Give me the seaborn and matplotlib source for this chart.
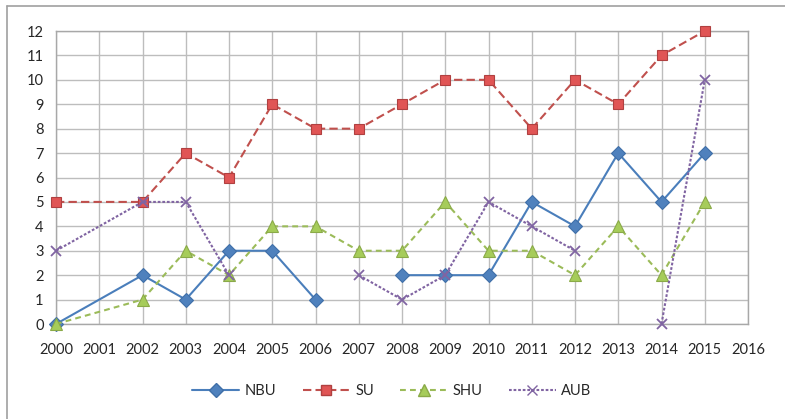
import numpy as np
import pandas as pd
import matplotlib
matplotlib.use("Agg")
import matplotlib.pyplot as plt
import seaborn as sns
from matplotlib.lines import Line2D

# data (2001 has no values; NaN = gap in the line)
years = [2000, 2002, 2003, 2004, 2005, 2006, 2007, 2008, 2009, 2010, 2011, 2012, 2013, 2014, 2015]
nbu = [0, 2, 1, 3, 3, 1, np.nan, 2, 2, 2, 5, 4, 7, 5, 7]
su = [5, 5, 7, 6, 9, 8, 8, 9, 10, 10, 8, 10, 9, 11, 12]
shu = [0, 1, 3, 2, 4, 4, 3, 3, 5, 3, 3, 2, 4, 2, 5]
aub = [3, 5, 5, 2, np.nan, np.nan, 2, 1, 2, 5, 4, 3, np.nan, 0, 10]
series_names = ["NBU", "SU", "SHU", "AUB"]
x_ticks = list(range(2000, 2017))
y_ticks = list(range(0, 13))

styles = {
    "NBU": dict(color="#4A7EBB", marker="D", mfc="#4F81BD", mec="#3F6FA8", ls="-", ms=7),
    "SU": dict(color="#C0504D", marker="s", mfc="#E05555", mec="#B04040", ls=(0, (4, 2)), ms=7.5),
    "SHU": dict(color="#9BBB59", marker="^", mfc="#A6CC5A", mec="#8AAA48", ls=(0, (2.8, 2)), ms=8),
    "AUB": dict(color="#8064A2", marker="x", mfc="#8064A2", mec="#8064A2", ls=(0, (1.3, 0.9)), ms=7),
}

frames = []
for name, vals in zip(series_names, [nbu, su, shu, aub]):
    d = pd.DataFrame({"year": years, "value": vals})
    d["seg"] = d["value"].isna().cumsum()
    d["series"] = name
    frames.append(d.dropna())
df = pd.concat(frames, ignore_index=True)

sns.set_style("white")
plt.rcParams["font.family"] = ["Lato", "DejaVu Sans"]

fig = plt.figure(figsize=(7.85, 4.19), dpi=100)
ax = fig.add_axes([56 / 785, 1 - 324 / 419, (748 - 56) / 785, (324 - 31) / 419])

for name in series_names:
    st = styles[name]
    sns.lineplot(data=df[df["series"] == name], x="year", y="value", units="seg",
                 estimator=None, ax=ax, color=st["color"], linestyle=st["ls"],
                 linewidth=1.5, marker=st["marker"], markersize=st["ms"],
                 markerfacecolor=st["mfc"], markeredgecolor=st["mec"],
                 markeredgewidth=1.3 if name == "AUB" else 0.8, zorder=3, clip_on=False)

ax.set_xlim(2000, 2016)
ax.set_ylim(0, 12)
ax.set_xticks(x_ticks)
ax.set_xticklabels([str(t) for t in x_ticks])
ax.set_yticks(y_ticks)
ax.grid(True, color="#BDBDBD", linewidth=1.0)
for s in ax.spines.values():
    s.set_color("#A8A8A8")
    s.set_linewidth(1.0)
ax.tick_params(axis="both", length=5, color="#A8A8A8", labelsize=10.5, pad=4)
ax.tick_params(axis="x", pad=9)
ax.set_xlabel("")
ax.set_ylabel("")

handles = [Line2D([], [], color=styles[n]["color"], linestyle=styles[n]["ls"], linewidth=1.5,
                  marker=styles[n]["marker"], markersize=styles[n]["ms"],
                  markerfacecolor=styles[n]["mfc"], markeredgecolor=styles[n]["mec"])
           for n in series_names]
fig.legend(handles, series_names, loc="center", bbox_to_anchor=(392 / 785, 1 - 391 / 419),
           ncol=4, frameon=False, fontsize=10.5, handlelength=3.2, columnspacing=1.8,
           handletextpad=0.4)

# outer chart-area border (top and left edges visible)
fig.add_artist(Line2D([7 / 785, 1], [1 - 6 / 419] * 2, color="#A0A0A0", linewidth=1.2))
fig.add_artist(Line2D([7 / 785] * 2, [0, 1 - 6 / 419], color="#A0A0A0", linewidth=1.2))

fig.savefig("out.png", dpi=100)
